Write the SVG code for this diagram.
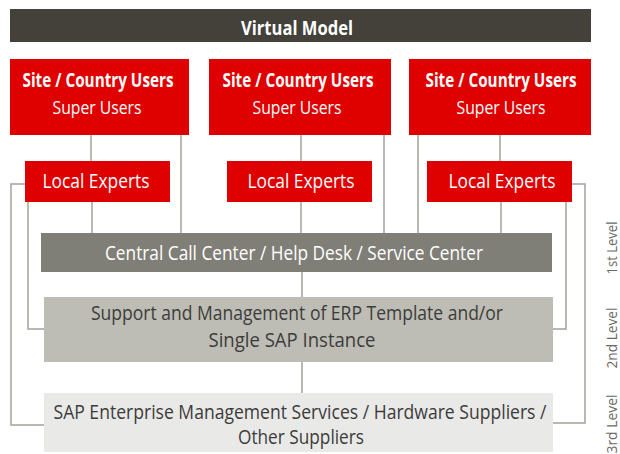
<svg xmlns="http://www.w3.org/2000/svg" width="620" height="454" viewBox="0 0 620 454">
<style>
.red{fill:#df0000}
.wt{fill:#ffffff;font-family:"Open Sans","Liberation Sans",sans-serif;text-anchor:middle}
.b{font-weight:bold}
.dk{fill:#3c3c3a;font-family:"Open Sans","Liberation Sans",sans-serif;text-anchor:middle}
.lv{fill:#6a6a6a;font-family:"Open Sans","Liberation Sans",sans-serif;font-size:14px;text-anchor:middle}
.ln{fill:none;stroke:#a3a29c;stroke-width:1.5}
</style>
<rect width="620" height="454" fill="#ffffff"/>
<g id="connectors">
  <path class="ln" d="M91,135V161M92,202V233M181,135V233"/>
  <path class="ln" d="M301,135V161M301,202V233M384,135V233"/>
  <path class="ln" d="M418,135V233M500,135V161M501,202V233"/>
  <path class="ln" d="M25,184H11V425H44M28,202V329H44"/>
  <path class="ln" d="M572,184H585V423H553M566,202V329H553"/>
  <path class="ln" d="M302,272V297M302,362V393"/>
</g>
<g id="header">
  <rect x="10" y="9" width="581" height="33" fill="#43413a"/>
  <text class="wt b" x="297" y="35" font-size="19.5" textLength="112" lengthAdjust="spacingAndGlyphs">Virtual Model</text>
</g>
<g id="site1">
  <rect class="red" x="10" y="59" width="179" height="76"/>
  <text class="wt b" x="98" y="87" font-size="19" textLength="151" lengthAdjust="spacingAndGlyphs">Site / Country Users</text>
  <text class="wt" x="97" y="114" font-size="19" textLength="89" lengthAdjust="spacingAndGlyphs">Super Users</text>
</g>
<g id="site2">
  <rect class="red" x="209" y="59" width="182" height="76"/>
  <text class="wt b" x="298" y="87" font-size="19" textLength="151" lengthAdjust="spacingAndGlyphs">Site / Country Users</text>
  <text class="wt" x="297" y="114" font-size="19" textLength="89" lengthAdjust="spacingAndGlyphs">Super Users</text>
</g>
<g id="site3">
  <rect class="red" x="409" y="59" width="182" height="76"/>
  <text class="wt b" x="501" y="87" font-size="19" textLength="151" lengthAdjust="spacingAndGlyphs">Site / Country Users</text>
  <text class="wt" x="501" y="114" font-size="19" textLength="89" lengthAdjust="spacingAndGlyphs">Super Users</text>
</g>
<g id="local1">
  <rect class="red" x="25" y="161" width="145" height="41"/>
  <text class="wt" x="96" y="188" font-size="20.5" textLength="107" lengthAdjust="spacingAndGlyphs">Local Experts</text>
</g>
<g id="local2">
  <rect class="red" x="227" y="161" width="145" height="41"/>
  <text class="wt" x="301" y="188" font-size="20.5" textLength="107" lengthAdjust="spacingAndGlyphs">Local Experts</text>
</g>
<g id="local3">
  <rect class="red" x="427" y="161" width="145" height="41"/>
  <text class="wt" x="502" y="188" font-size="20.5" textLength="107" lengthAdjust="spacingAndGlyphs">Local Experts</text>
</g>
<g id="level1">
  <rect x="41" y="233" width="511" height="39" fill="#7f7e77"/>
  <text class="wt" x="294" y="260" font-size="20" fill="#f2f2f0" textLength="378" lengthAdjust="spacingAndGlyphs">Central Call Center / Help Desk / Service Center</text>
</g>
<g id="level2">
  <rect x="44" y="297" width="509" height="65" fill="#bdbcb5"/>
  <text class="dk" x="297" y="320" font-size="20" textLength="412" lengthAdjust="spacingAndGlyphs">Support and Management of ERP Template and/or</text>
  <text class="dk" x="292" y="347" font-size="20" textLength="167" lengthAdjust="spacingAndGlyphs">Single SAP Instance</text>
</g>
<g id="level3">
  <rect x="44" y="393" width="509" height="59" fill="#e9e9e8"/>
  <text class="dk" x="300" y="419" font-size="20" textLength="493" lengthAdjust="spacingAndGlyphs">SAP Enterprise Management Services / Hardware Suppliers /</text>
  <text class="dk" x="301" y="444" font-size="20" textLength="126" lengthAdjust="spacingAndGlyphs">Other Suppliers</text>
</g>
<g id="levels">
  <text class="lv" transform="translate(617,248) rotate(-90)" textLength="53" lengthAdjust="spacingAndGlyphs">1st Level</text>
  <text class="lv" transform="translate(617,338) rotate(-90)" textLength="61" lengthAdjust="spacingAndGlyphs">2nd Level</text>
  <text class="lv" transform="translate(617,424) rotate(-90)" textLength="59" lengthAdjust="spacingAndGlyphs">3rd Level</text>
</g>
</svg>
